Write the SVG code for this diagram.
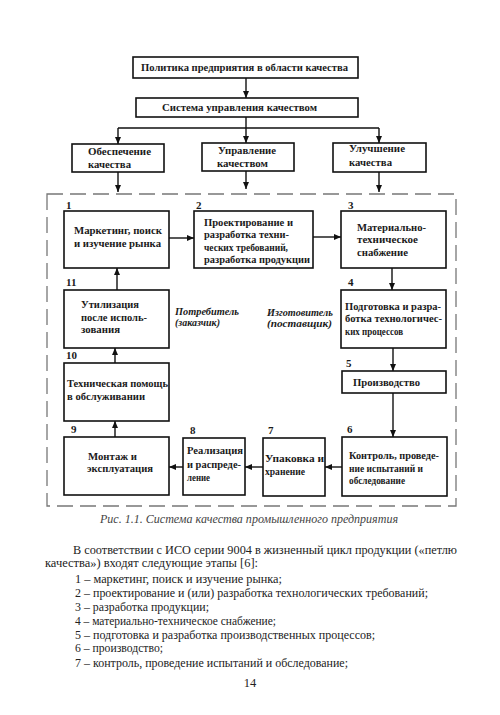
<svg xmlns="http://www.w3.org/2000/svg" width="500" height="715" viewBox="0 0 500 715">
<style>
.box{fill:#fff;stroke:#111;stroke-width:1.6}
.t{font-family:"Liberation Serif","DejaVu Serif","Times New Roman",serif;font-weight:bold;font-size:10.5px;fill:#1a1a1a}
.n{font-family:"Liberation Serif","DejaVu Serif","Times New Roman",serif;font-weight:bold;font-size:11px;fill:#1a1a1a}
.i{font-family:"Liberation Serif","DejaVu Serif","Times New Roman",serif;font-weight:bold;font-style:italic;font-size:10.5px;fill:#1a1a1a}
.c{fill:none;stroke:#111;stroke-width:1.4}
.body{font-family:"Liberation Serif","DejaVu Serif","Times New Roman",serif;font-size:12.5px;fill:#222}
.b2{font-size:11.5px}
.cap{font-family:"Liberation Serif","DejaVu Serif","Times New Roman",serif;font-style:italic;font-size:12px;fill:#444}
</style>
<defs>
<marker id="a" markerUnits="userSpaceOnUse" markerWidth="7" markerHeight="6" refX="7" refY="3" orient="auto">
<path d="M0,0 L7,3 L0,6 z" fill="#111"/>
</marker>
</defs>
<rect width="500" height="715" fill="#fff"/>
<rect x="47" y="194" width="409" height="312" fill="none" stroke="#777" stroke-width="1.3" stroke-dasharray="16 7"/>
<g id="connectors">
<path class="c" d="M246,78 V98" marker-end="url(#a)"/>
<path class="c" d="M246,117 V128 M118,128 H379"/>
<path class="c" d="M118,128 V144" marker-end="url(#a)"/>
<path class="c" d="M246,128 V143" marker-end="url(#a)"/>
<path class="c" d="M379,128 V143" marker-end="url(#a)"/>
<path class="c" d="M118,172 V192" marker-end="url(#a)"/>
<path class="c" d="M246,171 V189" marker-end="url(#a)"/>
<path class="c" d="M379,172 V192" marker-end="url(#a)"/>
<path class="c" d="M169,238 H194" marker-end="url(#a)"/>
<path class="c" d="M313,237 H341" marker-end="url(#a)"/>
<path class="c" d="M392,268 V290" marker-end="url(#a)"/>
<path class="c" d="M393,348 V371" marker-end="url(#a)"/>
<path class="c" d="M393,393 V437" marker-end="url(#a)"/>
<path class="c" d="M342,467 H325" marker-end="url(#a)"/>
<path class="c" d="M263,467 H245" marker-end="url(#a)"/>
<path class="c" d="M183,467 H169" marker-end="url(#a)"/>
<path class="c" d="M115,437 V421" marker-end="url(#a)"/>
<path class="c" d="M115,363 V348" marker-end="url(#a)"/>
<path class="c" d="M117,290 V268" marker-end="url(#a)"/>
</g>
<g id="policy">
<rect class="box" x="133" y="57" width="225" height="21"/>
<text class="t" x="141" y="71" textLength="207" lengthAdjust="spacingAndGlyphs">Политика предприятия в области качества</text>
</g>
<g id="qms">
<rect class="box" x="136" y="98" width="222" height="19"/>
<text class="t" x="162" y="111" textLength="155" lengthAdjust="spacingAndGlyphs">Система управления качеством</text>
</g>
<g id="assurance">
<rect class="box" x="72" y="144" width="92" height="28"/>
<text class="t" x="88" y="155" textLength="63" lengthAdjust="spacingAndGlyphs">Обеспечение</text>
<text class="t" x="88" y="168" textLength="43" lengthAdjust="spacingAndGlyphs">качества</text>
</g>
<g id="management">
<rect class="box" x="202" y="143" width="92" height="28"/>
<text class="t" x="218" y="154" textLength="58" lengthAdjust="spacingAndGlyphs">Управление</text>
<text class="t" x="217" y="167" textLength="51" lengthAdjust="spacingAndGlyphs">качеством</text>
</g>
<g id="improvement">
<rect class="box" x="333" y="143" width="93" height="29"/>
<text class="t" x="349" y="152" textLength="56" lengthAdjust="spacingAndGlyphs">Улучшение</text>
<text class="t" x="349" y="166" textLength="43" lengthAdjust="spacingAndGlyphs">качества</text>
</g>
<g id="n1">
<text class="n" x="66" y="209">1</text>
<rect class="box" x="64" y="211" width="105" height="57"/>
<text class="t" x="74" y="234" textLength="88" lengthAdjust="spacingAndGlyphs">Маркетинг, поиск</text>
<text class="t" x="74" y="247" textLength="87" lengthAdjust="spacingAndGlyphs">и изучение рынка</text>
</g>
<g id="n2">
<text class="n" x="196" y="209">2</text>
<rect class="box" x="194" y="211" width="119" height="57"/>
<text class="t" x="204" y="226" textLength="89" lengthAdjust="spacingAndGlyphs">Проектирование и</text>
<text class="t" x="204" y="238" textLength="85" lengthAdjust="spacingAndGlyphs">разработка техни-</text>
<text class="t" x="204" y="251" textLength="84" lengthAdjust="spacingAndGlyphs">ческих требований,</text>
<text class="t" x="204" y="263" textLength="106" lengthAdjust="spacingAndGlyphs">разработка продукции</text>
</g>
<g id="n3">
<text class="n" x="348" y="209">3</text>
<rect class="box" x="341" y="211" width="105" height="57"/>
<text class="t" x="357" y="231" textLength="69" lengthAdjust="spacingAndGlyphs">Материально-</text>
<text class="t" x="357" y="243" textLength="61" lengthAdjust="spacingAndGlyphs">техническое</text>
<text class="t" x="357" y="256" textLength="51" lengthAdjust="spacingAndGlyphs">снабжение</text>
</g>
<g id="n4">
<text class="n" x="348" y="286">4</text>
<rect class="box" x="341" y="290" width="105" height="58"/>
<text class="t" x="345" y="310" textLength="96" lengthAdjust="spacingAndGlyphs">Подготовка и разра-</text>
<text class="t" x="345" y="322" textLength="97" lengthAdjust="spacingAndGlyphs">ботка технологичес-</text>
<text class="t" x="345" y="335" textLength="58" lengthAdjust="spacingAndGlyphs">ких процессов</text>
</g>
<g id="n5">
<text class="n" x="346" y="367">5</text>
<rect class="box" x="342" y="371" width="104" height="22"/>
<text class="t" x="353" y="386" textLength="67" lengthAdjust="spacingAndGlyphs">Производство</text>
</g>
<g id="n6">
<text class="n" x="347" y="433">6</text>
<rect class="box" x="342" y="437" width="105" height="59"/>
<text class="t" x="349" y="459" textLength="90" lengthAdjust="spacingAndGlyphs">Контроль, проведе-</text>
<text class="t" x="349" y="472" textLength="74" lengthAdjust="spacingAndGlyphs">ние испытаний и</text>
<text class="t" x="349" y="484" textLength="56" lengthAdjust="spacingAndGlyphs">обследование</text>
</g>
<g id="n7">
<text class="n" x="268" y="434">7</text>
<rect class="box" x="263" y="438" width="62" height="58"/>
<text class="t" x="265" y="462" textLength="59" lengthAdjust="spacingAndGlyphs">Упаковка и</text>
<text class="t" x="265" y="475" textLength="40" lengthAdjust="spacingAndGlyphs">хранение</text>
</g>
<g id="n8">
<text class="n" x="190" y="434">8</text>
<rect class="box" x="183" y="438" width="62" height="57"/>
<text class="t" x="187" y="454" textLength="56" lengthAdjust="spacingAndGlyphs">Реализация</text>
<text class="t" x="187" y="468" textLength="54" lengthAdjust="spacingAndGlyphs">и распреде-</text>
<text class="t" x="187" y="481" textLength="23" lengthAdjust="spacingAndGlyphs">ление</text>
</g>
<g id="n9">
<text class="n" x="71" y="433">9</text>
<rect class="box" x="64" y="437" width="105" height="58"/>
<text class="t" x="88" y="460" textLength="49" lengthAdjust="spacingAndGlyphs">Монтаж и</text>
<text class="t" x="87" y="472" textLength="66" lengthAdjust="spacingAndGlyphs">эксплуатация</text>
</g>
<g id="n10">
<text class="n" x="66" y="359">10</text>
<rect class="box" x="64" y="363" width="105" height="58"/>
<text class="t" x="67" y="387" textLength="101" lengthAdjust="spacingAndGlyphs">Техническая помощь</text>
<text class="t" x="67" y="400" textLength="78" lengthAdjust="spacingAndGlyphs">в обслуживании</text>
</g>
<g id="n11">
<text class="n" x="66" y="286">11</text>
<rect class="box" x="64" y="290" width="105" height="58"/>
<text class="t" x="81" y="308" textLength="58" lengthAdjust="spacingAndGlyphs">Утилизация</text>
<text class="t" x="81" y="321" textLength="66" lengthAdjust="spacingAndGlyphs">после исполь-</text>
<text class="t" x="81" y="333" textLength="39" lengthAdjust="spacingAndGlyphs">зования</text>
</g>
<g id="consumer">
<text class="i" x="175" y="315" textLength="64" lengthAdjust="spacingAndGlyphs">Потребитель</text>
<text class="i" x="175" y="326" textLength="45" lengthAdjust="spacingAndGlyphs">(заказчик)</text>
</g>
<g id="producer">
<text class="i" x="267" y="316" textLength="66" lengthAdjust="spacingAndGlyphs">Изготовитель</text>
<text class="i" x="267" y="327" textLength="65" lengthAdjust="spacingAndGlyphs">(поставщик)</text>
</g>
<text class="cap" x="100" y="523" textLength="298" lengthAdjust="spacingAndGlyphs">Рис. 1.1. Система качества промышленного предприятия</text>
<g id="body">
<text class="body b2" x="73" y="554" textLength="384" lengthAdjust="spacingAndGlyphs">В соответствии с ИСО серии 9004 в жизненный цикл продукции («петлю</text>
<text class="body b2" x="45" y="567" textLength="213" lengthAdjust="spacingAndGlyphs">качества») входят следующие этапы [6]:</text>
<text class="body" x="75" y="583" textLength="207" lengthAdjust="spacingAndGlyphs">1 – маркетинг, поиск и изучение рынка;</text>
<text class="body" x="75" y="597" textLength="353" lengthAdjust="spacingAndGlyphs">2 – проектирование и (или) разработка технологических требований;</text>
<text class="body" x="75" y="611" textLength="134" lengthAdjust="spacingAndGlyphs">3 – разработка продукции;</text>
<text class="body" x="75" y="625" textLength="201" lengthAdjust="spacingAndGlyphs">4 – материально-техническое снабжение;</text>
<text class="body" x="75" y="639" textLength="300" lengthAdjust="spacingAndGlyphs">5 – подготовка и разработка производственных процессов;</text>
<text class="body" x="75" y="652" textLength="88" lengthAdjust="spacingAndGlyphs">6 – производство;</text>
<text class="body" x="75" y="667" textLength="273" lengthAdjust="spacingAndGlyphs">7 – контроль, проведение испытаний и обследование;</text>
<text class="body" x="250" y="687" text-anchor="middle">14</text>
</g>
</svg>
